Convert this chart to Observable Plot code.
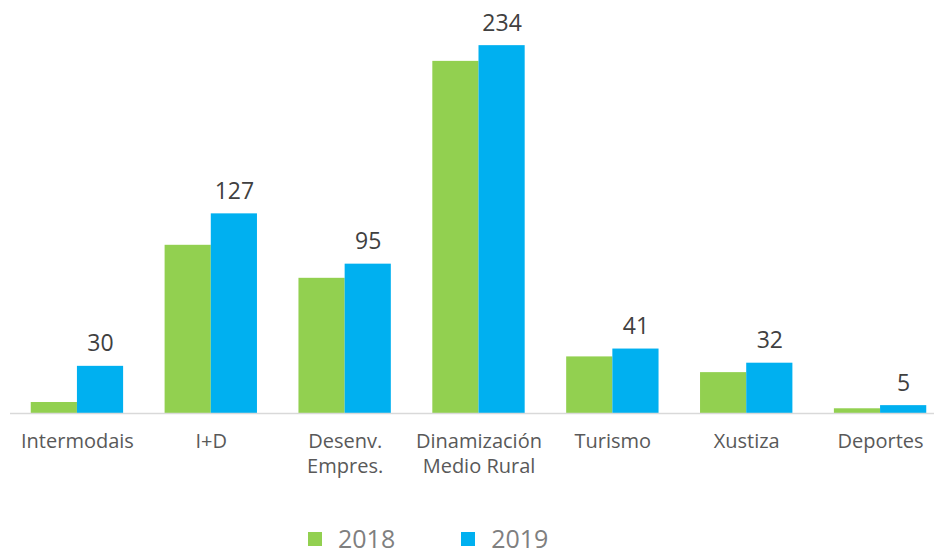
<!DOCTYPE html>
<html>
<head>
<meta charset="utf-8">
<script src="https://cdn.jsdelivr.net/npm/d3@7"></script>
<script src="https://cdn.jsdelivr.net/npm/@observablehq/plot@0.6"></script>
<style>
  html, body { margin: 0; padding: 0; background: #fff; overflow: hidden; }
  #chart { width: 934px; }
  .legend { display: flex; align-items: center; padding-left: 308px; margin-top: 36px; line-height: 1;
            font-family: "Open Sans", sans-serif; font-size: 25px; color: #7f7f7f; }
  .legend .item { display: flex; align-items: center; margin-right: 66px; }
  .legend .sw { width: 14px; height: 14px; margin-right: 16px; }
</style>
</head>
<body>
<div id="chart"></div>
<script>
const categories = ["Intermodais", "I+D", "Desenv.\nEmpres.", "Dinamización\nMedio Rural", "Turismo", "Xustiza", "Deportes"];
const values2018 = [7, 107, 86, 224, 36, 26, 3];
const values2019 = [30, 127, 95, 234, 41, 32, 5];
const years = ["2018", "2019"];
const colors = ["#92D050", "#00B0F0"];

const d2018 = categories.map((c, i) => ({category: c, value: values2018[i]}));
const d2019 = categories.map((c, i) => ({category: c, value: values2019[i]}));

const W = 934;
const marginLeft = 10, marginRight = -13;
const paddingInner = 0.31, paddingOuter = 0.155;
const step = (W - marginLeft - marginRight) / (categories.length - paddingInner + 2 * paddingOuter);
const bw = step * (1 - paddingInner);
const half = bw / 2;

const chart = Plot.plot({
  width: W,
  height: 490,
  marginLeft, marginRight,
  marginTop: 20,
  marginBottom: 77,
  style: {fontFamily: "'Open Sans', sans-serif", background: "#fff"},
  x: {domain: categories, type: "band", paddingInner, paddingOuter, round: false, label: null},
  y: {domain: [0, 250], axis: null},
  marks: [
    Plot.barY(d2018, {x: "category", y: "value", fill: colors[0], insetRight: half, insetLeft: 0}),
    Plot.barY(d2019, {x: "category", y: "value", fill: colors[1], insetLeft: half, insetRight: 0}),
    Plot.ruleY([0], {stroke: "#d9d9d9", strokeWidth: 1.5}),
    Plot.text(d2019, {x: "category", y: "value", text: d => String(d.value), dx: half / 2, dy: -15,
      lineAnchor: "bottom", fontSize: 23, fill: "#404040"}),
    Plot.axisX({tickSize: 0, tickPadding: 17, fontSize: 20, fill: "#595959", lineHeight: 1.25, lineAnchor: "top", label: null})
  ]
});
document.getElementById("chart").appendChild(chart);

const legend = document.createElement("div");
legend.className = "legend";
years.forEach((y, i) => {
  const item = document.createElement("div");
  item.className = "item";
  const sw = document.createElement("div");
  sw.className = "sw";
  sw.style.background = colors[i];
  const t = document.createElement("span");
  t.textContent = y;
  item.appendChild(sw); item.appendChild(t);
  legend.appendChild(item);
});
document.getElementById("chart").appendChild(legend);
</script>
</body>
</html>
